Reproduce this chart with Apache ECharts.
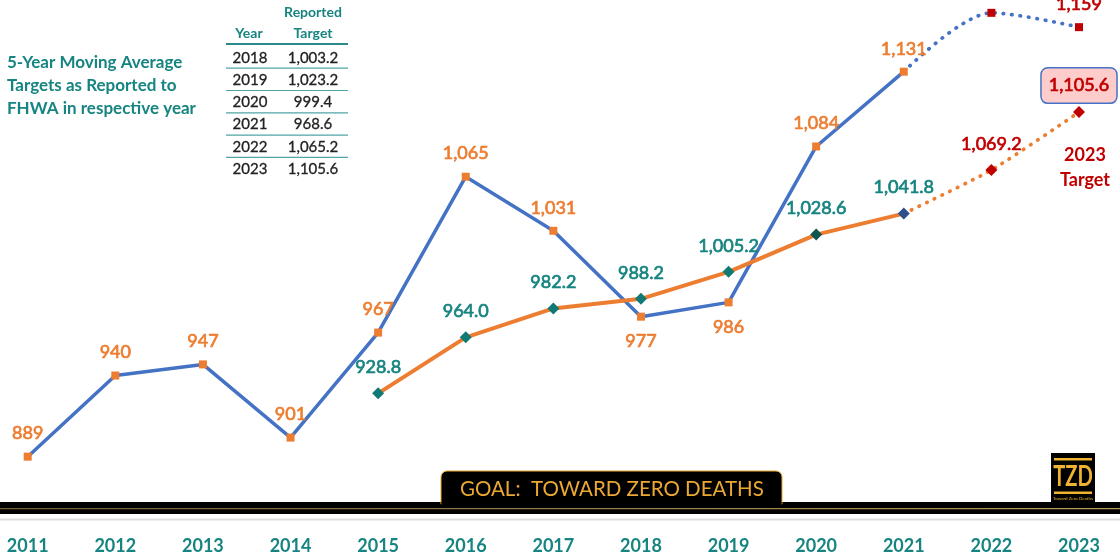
<!DOCTYPE html>
<html>
<head>
<meta charset="utf-8">
<script src="https://cdn.jsdelivr.net/npm/echarts@6/dist/echarts.min.js"></script>
<style>html,body{margin:0;padding:0;background:#fff;}#c{width:1120px;height:558px;}</style>
</head>
<body>
<div id="c"></div>
<script>
const years = ['2011','2012','2013','2014','2015','2016','2017','2018','2019','2020','2021','2022','2023'];
const actualFatalities = [889, 940, 947, 901, 967, 1065, 1031, 977, 986, 1084, 1131, null, null];
const projectedFatalities = [null, null, null, null, null, null, null, null, null, null, 1131, 1168, 1159];
const movingAverage = [null, null, null, null, 928.8, 964.0, 982.2, 988.2, 1005.2, 1028.6, 1041.8, null, null];
const projectedAverage = [null, null, null, null, null, null, null, null, null, null, 1041.8, 1069.2, 1105.6];
const tableYears = ['2018','2019','2020','2021','2022','2023'];
const reportedTargets = ['1,003.2','1,023.2','999.4','968.6','1,065.2','1,105.6'];
const labelsBelow = ['2018','2019'];

const BLUE = '#4472C4', ORANGE = '#ED7D31', TEAL = '#168480', RED = '#C00000', GOLD = '#EBA934';
const FONT = 'Lato, "Open Sans", sans-serif';
const fmt0 = v => v.toLocaleString('en-US');
const fmt1 = v => v.toLocaleString('en-US', {minimumFractionDigits: 1, maximumFractionDigits: 1});
const lbl = (color) => ({color: color, fontFamily: FONT, fontSize: 18, lineHeight: 18, textBorderColor: color, textBorderWidth: 0.7});

const chart = echarts.init(document.getElementById('c'), null, {renderer: 'canvas'});

const actualData = actualFatalities.map((v, i) => v == null ? null : ({
  value: v,
  label: labelsBelow.includes(years[i]) ? {position: 'bottom', distance: 12} : {position: 'top', distance: 10}
}));
const projData = projectedFatalities.map((v, i) => {
  if (v == null) return null;
  if (i === 10) return {value: v, symbol: 'none', label: {show: false}};
  if (i === 11) return {value: v, label: {show: false}};
  return {value: v};
});
const maColors = {'2020': '#0E5550', '2021': '#2F4E8C'};
const maData = movingAverage.map((v, i) => v == null ? null : ({
  value: v,
  itemStyle: {color: maColors[years[i]] || '#127A74'}
}));
const paData = projectedAverage.map((v, i) => {
  if (v == null) return null;
  if (i === 10) return {value: v, symbol: 'none', label: {show: false}};
  if (i === 12) return {value: v, label: {
    backgroundColor: '#FFCCCC', borderColor: BLUE, borderWidth: 1.5, borderRadius: 6,
    padding: [8, 7, 8, 7], distance: 3.5
  }};
  return {value: v};
});

const graphics = [];
// caption
['5-Year Moving Average', 'Targets as Reported to', 'FHWA in respective year'].forEach((t, i) => {
  graphics.push({type: 'text', x: 7, y: 63 + i * 22.8, style: {text: t, fill: TEAL, font: 'bold 17px ' + FONT, align: 'left', verticalAlign: 'middle'}});
});
// table header
graphics.push({type: 'text', x: 313, y: 12.5, style: {text: 'Reported', fill: TEAL, font: 'bold 14px ' + FONT, align: 'center', verticalAlign: 'middle'}});
graphics.push({type: 'text', x: 249, y: 33.5, style: {text: 'Year', fill: TEAL, font: 'bold 14px ' + FONT, align: 'center', verticalAlign: 'middle'}});
graphics.push({type: 'text', x: 313, y: 33.5, style: {text: 'Target', fill: TEAL, font: 'bold 14px ' + FONT, align: 'center', verticalAlign: 'middle'}});
graphics.push({type: 'line', shape: {x1: 226, y1: 44, x2: 348, y2: 44}, style: {stroke: '#2A8A8A', lineWidth: 2}});
tableYears.forEach((y, i) => {
  const cy = 57.7 + i * 22.3;
  graphics.push({type: 'text', x: 250, y: cy, style: {text: y, fill: '#222', font: '15px ' + FONT, align: 'center', verticalAlign: 'middle', stroke: '#222', lineWidth: 0.3}});
  graphics.push({type: 'text', x: 313, y: cy, style: {text: reportedTargets[i], fill: '#222', font: '15px ' + FONT, align: 'center', verticalAlign: 'middle', stroke: '#222', lineWidth: 0.3}});
  if (i < tableYears.length - 1) {
    graphics.push({type: 'line', shape: {x1: 226, y1: cy + 10.5, x2: 348, y2: cy + 10.5}, style: {stroke: '#4FA5A5', lineWidth: 1.2}});
  }
});
// 2023 target note
graphics.push({type: 'text', x: 1085, y: 155, style: {text: '2023', fill: RED, font: 'bold 18px ' + FONT, align: 'center', verticalAlign: 'middle'}});
graphics.push({type: 'text', x: 1085, y: 180, style: {text: 'Target', fill: RED, font: 'bold 18px ' + FONT, align: 'center', verticalAlign: 'middle'}});
// bottom band
graphics.push({type: 'rect', shape: {x: 0, y: 502, width: 1120, height: 12}, style: {fill: '#000'}});
graphics.push({type: 'rect', shape: {x: 0, y: 508, width: 1120, height: 1.2}, style: {fill: {type: 'linear', x: 0, y: 0, x2: 1, y2: 0, colorStops: [{offset: 0, color: '#6E5E36'}, {offset: 1, color: '#B89A5A'}]}}});
graphics.push({type: 'rect', shape: {x: 0, y: 518.5, width: 1120, height: 2}, style: {fill: '#DDDDDD'}});
// goal tab
graphics.push({type: 'rect', shape: {x: 441, y: 471, width: 341, height: 33, r: [6, 6, 0, 0]}, style: {fill: '#000', stroke: '#E8A92C', lineWidth: 1}});
graphics.push({type: 'rect', shape: {x: 441.5, y: 502, width: 340, height: 6}, style: {fill: '#000'}});
graphics.push({type: 'text', x: 460, y: 489.5, style: {text: 'GOAL:  TOWARD ZERO DEATHS', fill: GOLD, font: '20.5px ' + FONT, align: 'left', verticalAlign: 'middle'}});
// logo
graphics.push({type: 'rect', shape: {x: 1051, y: 453, width: 44, height: 52}, style: {fill: '#000'}});
graphics.push({type: 'rect', shape: {x: 1054, y: 458, width: 38, height: 2.5}, style: {fill: '#F0B232'}});
graphics.push({type: 'rect', shape: {x: 1054, y: 491.5, width: 38, height: 2.5}, style: {fill: '#F0B232'}});
graphics.push({type: 'text', x: 1073, y: 476.5, scaleX: 0.72, originX: 0, originY: 0, style: {text: 'TZD', fill: '#F0B232', font: 'bold 28px ' + FONT, align: 'center', verticalAlign: 'middle'}});
graphics.push({type: 'text', x: 1073, y: 499, style: {text: 'Toward Zero Deaths', fill: '#F0B232', font: '4.5px ' + FONT, align: 'center', verticalAlign: 'middle'}});

const option = {
  animation: false,
  backgroundColor: '#fff',
  grid: {left: 27.7, right: 41, top: 1.7, bottom: 55.2, containLabel: false},
  xAxis: {
    type: 'category', data: years, boundaryGap: false,
    axisLine: {show: false}, axisTick: {show: false}, splitLine: {show: false},
    axisLabel: {color: TEAL, fontFamily: FONT, fontWeight: 'bold', fontSize: 18, lineHeight: 18, margin: 34, interval: 0}
  },
  yAxis: {type: 'value', min: 860, max: 1175, show: false, splitLine: {show: false}},
  series: [
    {
      name: 'Fatalities', type: 'line', data: actualData, connectNulls: false,
      symbol: 'rect', symbolSize: 8, itemStyle: {color: ORANGE},
      lineStyle: {color: BLUE, width: 3.5},
      label: Object.assign({show: true, formatter: p => fmt0(p.value)}, lbl(ORANGE)),
      z: 2
    },
    {
      name: 'Projected', type: 'line', data: projData, smooth: 0.3,
      symbol: 'rect', symbolSize: 8, itemStyle: {color: RED},
      lineStyle: {color: BLUE, width: 3.7, type: [0.5, 8], cap: 'round'},
      label: Object.assign({show: true, position: 'top', distance: 10, formatter: p => fmt0(p.value)}, lbl(RED)),
      z: 2
    },
    {
      name: '5-Year Moving Average', type: 'line', data: maData,
      symbol: 'diamond', symbolSize: 12,
      lineStyle: {color: ORANGE, width: 4},
      label: Object.assign({show: true, position: 'top', distance: 11, formatter: p => fmt1(p.value)}, lbl(TEAL)),
      z: 3
    },
    {
      name: 'Projected Average', type: 'line', data: paData, smooth: 0.2,
      symbol: 'diamond', symbolSize: 12, itemStyle: {color: RED},
      lineStyle: {color: ORANGE, width: 3.7, type: [0.5, 8], cap: 'round'},
      label: Object.assign({show: true, position: 'top', distance: 11, formatter: p => fmt1(p.value)}, lbl(RED)),
      z: 3
    }
  ],
  graphic: {elements: graphics}
};
chart.setOption(option);
</script>
</body>
</html>
